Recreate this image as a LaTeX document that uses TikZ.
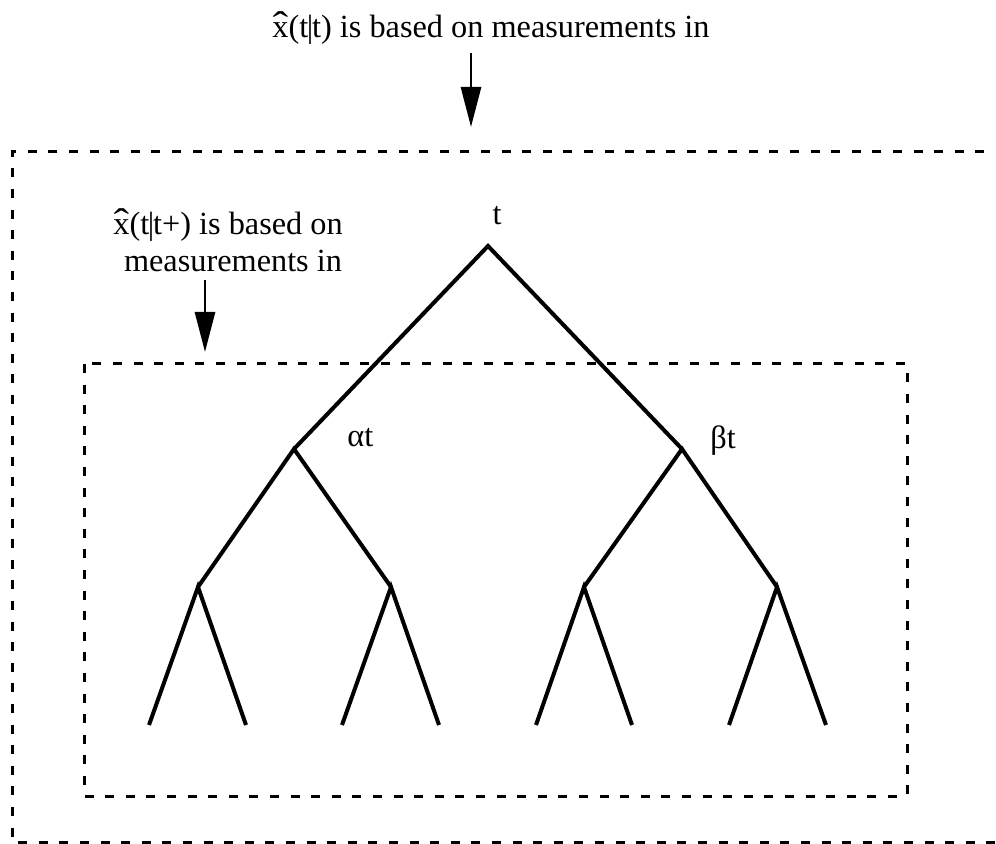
\documentclass[tikz,border=0pt]{standalone}
\usepackage{fontspec}
\usepackage{graphicx}
\setmainfont{Liberation Serif}
\usetikzlibrary{arrows.meta}
\newcommand\hx{\ooalign{x\cr\hidewidth\scalebox{1.45}[1.15]{ˆ}\hidewidth\cr}}
\newcommand\bartt{t\kern-0.04em|\kern-0.04em t}
\tikzset{
  lbl/.style={inner sep=0pt, font=\fontsize{16.15}{18.5}\selectfont},
  branch/.style={line width=2pt, line join=miter, line cap=butt},
  dashbox/.style={line width=1.5pt, dash pattern=on 4.5pt off 5.8pt},
  pointer/.style={line width=1.4pt, -{Triangle[length=20pt,width=10pt]}}
}
\begin{document}
\begin{tikzpicture}[x=0.5pt,y=-0.5pt]
\useasboundingbox (0,0) rectangle (996,844);
% boxes
\draw[dashbox] (1005,152) -- (12,152) -- (12,842) -- (1005,842);
\draw[dashbox] (84,364) rectangle (907,796);
% labels
\node[lbl, anchor=base west] (top) at (272,38) {\hx(\bartt) is based on measurements in};
\node[lbl, anchor=base west] (inA) at (113,235) {\hx(\bartt+) is based on};
\node[lbl, anchor=base] (inB) at (233,272) {measurements in};
% arrows
\coordinate (p1) at (471,53);
\coordinate (q1) at (471,127);
\coordinate (p2) at (205,280);
\coordinate (q2) at (205,352);
\draw[pointer] (p1) -- (q1);
\draw[pointer] (p2) -- (q2);
% tree
\coordinate (r) at (488,246);
\coordinate (a) at (294,449);
\coordinate (b) at (682,449);
\coordinate (a1) at (198,587);
\coordinate (a2) at (391,587);
\coordinate (b1) at (584,587);
\coordinate (b2) at (777,587);
\coordinate (l1) at (149,725);
\coordinate (l2) at (246,725);
\coordinate (l3) at (342,725);
\coordinate (l4) at (439,725);
\coordinate (l5) at (536,725);
\coordinate (l6) at (632,725);
\coordinate (l7) at (729,725);
\coordinate (l8) at (826,725);
\draw[branch] (a) -- (r) -- (b);
\draw[branch] (a1) -- (a) -- (a2);
\draw[branch] (b1) -- (b) -- (b2);
\draw[branch] (l1) -- (a1) -- (l2);
\draw[branch] (l3) -- (a2) -- (l4);
\draw[branch] (l5) -- (b1) -- (l6);
\draw[branch] (l7) -- (b2) -- (l8);
\node[lbl, anchor=base] (tl) at (497,225) {t};
\node[lbl, anchor=base west] (al) at (347,447) {αt};
\node[lbl, anchor=base west] (bl) at (710,449) {βt};
\end{tikzpicture}
\end{document}
